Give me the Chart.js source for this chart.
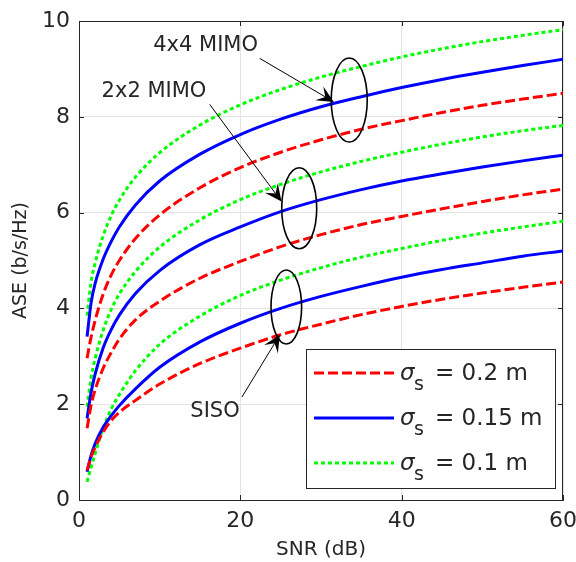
<!DOCTYPE html>
<html>
<head>
<meta charset="utf-8">
<script src="https://cdn.jsdelivr.net/npm/chart.js@4.4.1/dist/chart.umd.min.js"></script>
<style>
  html, body { margin: 0; padding: 0; background: #fff; }
</style>
</head>
<body>
<canvas id="chart" width="576" height="562"></canvas>
<script>
const snr = [1, 1.5, 2, 3, 4, 5, 7, 10, 15, 20, 25, 30, 35, 40, 45, 50, 55, 60];

// SISO
const sisoRed   = [0.62, 0.90, 1.10, 1.42, 1.66, 1.83, 2.08, 2.42, 2.85, 3.17, 3.45, 3.67, 3.87, 4.04, 4.19, 4.32, 4.44, 4.55];
const sisoBlue  = [0.59, 0.93, 1.18, 1.52, 1.76, 1.97, 2.32, 2.77, 3.30, 3.69, 4.00, 4.25, 4.46, 4.65, 4.81, 4.95, 5.09, 5.20];
const sisoGreen = [0.38, 0.68, 0.97, 1.50, 1.90, 2.20, 2.70, 3.25, 3.84, 4.27, 4.59, 4.85, 5.07, 5.25, 5.42, 5.57, 5.70, 5.82];
// 2x2 MIMO
const mimo2Red   = [1.50, 1.98, 2.30, 2.75, 3.08, 3.36, 3.76, 4.15, 4.63, 4.98, 5.29, 5.54, 5.75, 5.92, 6.08, 6.23, 6.37, 6.49];
const mimo2Blue  = [1.70, 2.25, 2.63, 3.18, 3.56, 3.86, 4.31, 4.79, 5.33, 5.70, 6.02, 6.27, 6.48, 6.66, 6.81, 6.95, 7.08, 7.20];
const mimo2Green = [1.95, 2.55, 2.95, 3.55, 3.98, 4.30, 4.77, 5.28, 5.85, 6.27, 6.59, 6.85, 7.07, 7.26, 7.43, 7.58, 7.71, 7.82];
// 4x4 MIMO
const mimo4Red   = [2.96, 3.40, 3.75, 4.30, 4.70, 5.00, 5.46, 5.95, 6.52, 6.94, 7.26, 7.52, 7.74, 7.92, 8.09, 8.24, 8.37, 8.49];
const mimo4Blue  = [3.41, 4.12, 4.52, 5.03, 5.40, 5.70, 6.16, 6.66, 7.22, 7.63, 7.95, 8.21, 8.42, 8.61, 8.78, 8.93, 9.07, 9.20];
const mimo4Green = [3.85, 4.55, 4.95, 5.52, 5.94, 6.26, 6.74, 7.25, 7.83, 8.25, 8.57, 8.83, 9.05, 9.25, 9.42, 9.57, 9.70, 9.82];

const xTicks = [0, 20, 40, 60];
const yTicks = [0, 2, 4, 6, 8, 10];
const legendLabels = ['0.2', '0.15', '0.1'];

const RED = '#ff0000', BLUE = '#0000ff', GREEN = '#00ff00';
const styles = {
  red:   { color: RED,   dash: [10, 4] },
  blue:  { color: BLUE,  dash: [] },
  green: { color: GREEN, dash: [4, 3] }
};
const FONT = '"DejaVu Sans", sans-serif';
const AXIS = '#262626';

function series(ys, style) {
  return {
    data: ys.map((y, i) => ({ x: snr[i], y: y })),
    borderColor: styles[style].color,
    borderDash: styles[style].dash,
    borderWidth: 3,
    pointRadius: 0,
    fill: false,
    cubicInterpolationMode: 'monotone'
  };
}

// annotation positions in data units
const ellipses = [
  { x: 33.5, y: 8.35, rx: 18, ry: 42 },
  { x: 27.3, y: 6.09, rx: 17.5, ry: 40.5 },
  { x: 25.7, y: 4.03, rx: 15.3, ry: 37 }
];
const arrows = [
  { from: [22.4, 9.22], to: [31.6, 8.31] },
  { from: [16.2, 8.26], to: [25.1, 6.23] },
  { from: [20.2, 2.15], to: [24.9, 3.45] }
];
const labels = [
  { text: '4x4 MIMO', x: 9.2, y: 9.48 },
  { text: '2x2 MIMO', x: 2.8, y: 8.52 },
  { text: 'SISO', x: 13.8, y: 1.85 }
];

function drawArrow(ctx, x1, y1, x2, y2) {
  const ang = Math.atan2(y2 - y1, x2 - x1);
  const len = 17, wid = 8, notch = 10;
  ctx.beginPath();
  ctx.moveTo(x1, y1);
  ctx.lineTo(x2 - Math.cos(ang) * notch, y2 - Math.sin(ang) * notch);
  ctx.lineWidth = 1;
  ctx.strokeStyle = '#000';
  ctx.stroke();
  const bx = x2 - Math.cos(ang) * len, by = y2 - Math.sin(ang) * len;
  const nx = x2 - Math.cos(ang) * notch, ny = y2 - Math.sin(ang) * notch;
  const px = -Math.sin(ang) * wid, py = Math.cos(ang) * wid;
  ctx.beginPath();
  ctx.moveTo(x2, y2);
  ctx.lineTo(bx + px, by + py);
  ctx.lineTo(nx, ny);
  ctx.lineTo(bx - px, by - py);
  ctx.closePath();
  ctx.fillStyle = '#000';
  ctx.fill();
}

const extras = {
  id: 'extras',
  beforeDatasetsDraw(chart) {
    const { ctx, chartArea: a } = chart;
    // box and inner ticks
    ctx.save();
    ctx.strokeStyle = AXIS;
    ctx.lineWidth = 1;
    ctx.strokeRect(a.left + 0.5, a.top + 0.5, a.right - a.left - 1, a.bottom - a.top);
    const xs = chart.scales.x, ys = chart.scales.y;
    ctx.beginPath();
    xTicks.forEach(t => {
      const px = Math.round(xs.getPixelForValue(t)) + 0.5;
      ctx.moveTo(px, a.bottom); ctx.lineTo(px, a.bottom - 5);
      ctx.moveTo(px, a.top); ctx.lineTo(px, a.top + 5);
    });
    yTicks.forEach(t => {
      const py = Math.round(ys.getPixelForValue(t)) + 0.5;
      ctx.moveTo(a.left, py); ctx.lineTo(a.left + 5, py);
      ctx.moveTo(a.right, py); ctx.lineTo(a.right - 5, py);
    });
    ctx.stroke();
    ctx.restore();
  },
  afterDatasetsDraw(chart) {
    const { ctx, chartArea: a } = chart;
    const xs = chart.scales.x, ys = chart.scales.y;
    ctx.save();
    // ellipses
    ctx.strokeStyle = '#000';
    ctx.lineWidth = 1.6;
    ellipses.forEach(e => {
      ctx.beginPath();
      ctx.ellipse(xs.getPixelForValue(e.x), ys.getPixelForValue(e.y), e.rx, e.ry, 0, 0, Math.PI * 2);
      ctx.stroke();
    });
    arrows.forEach(ar => {
      drawArrow(ctx, xs.getPixelForValue(ar.from[0]), ys.getPixelForValue(ar.from[1]),
        xs.getPixelForValue(ar.to[0]), ys.getPixelForValue(ar.to[1]));
    });
    ctx.fillStyle = '#262626';
    ctx.font = '21px ' + FONT;
    ctx.textBaseline = 'middle';
    ctx.textAlign = 'left';
    labels.forEach(l => {
      ctx.fillText(l.text, xs.getPixelForValue(l.x), ys.getPixelForValue(l.y));
    });

    // legend
    const bw = 249, bh = 139;
    const bx = a.right - 8 - bw, by = a.bottom - 12 - bh;
    ctx.fillStyle = '#fff';
    ctx.fillRect(bx, by, bw, bh);
    ctx.strokeStyle = AXIS;
    ctx.lineWidth = 1;
    ctx.strokeRect(bx + 0.5, by + 0.5, bw, bh);
    const keys = ['red', 'blue', 'green'];
    keys.forEach((k, i) => {
      const ly = by + 24 + i * 45;
      ctx.beginPath();
      ctx.setLineDash(styles[k].dash);
      ctx.strokeStyle = styles[k].color;
      ctx.lineWidth = 3;
      ctx.moveTo(bx + 8, ly);
      ctx.lineTo(bx + 88, ly);
      ctx.stroke();
      ctx.setLineDash([]);
      ctx.fillStyle = '#262626';
      ctx.textBaseline = 'alphabetic';
      ctx.font = 'italic 23px ' + FONT;
      ctx.fillText('σ', bx + 94, ly + 7);
      ctx.font = '19px ' + FONT;
      ctx.fillText('s', bx + 108, ly + 17);
      ctx.font = '23px ' + FONT;
      ctx.fillText('= ' + legendLabels[i] + ' m', bx + 129, ly + 7);
    });
    ctx.restore();
  }
};

new Chart(document.getElementById('chart'), {
  type: 'line',
  data: {
    datasets: [
      series(mimo4Red, 'red'), series(mimo4Blue, 'blue'), series(mimo4Green, 'green'),
      series(mimo2Red, 'red'), series(mimo2Blue, 'blue'), series(mimo2Green, 'green'),
      series(sisoRed, 'red'), series(sisoBlue, 'blue'), series(sisoGreen, 'green')
    ]
  },
  options: {
    responsive: false,
    animation: false,
    layout: { padding: { left: 0, top: 21, right: 13, bottom: 0 } },
    plugins: { legend: { display: false }, tooltip: { enabled: false } },
    scales: {
      x: {
        type: 'linear', min: 0, max: 60,
        afterBuildTicks: ax => { ax.ticks = xTicks.map(v => ({ value: v })); },
        afterFit: ax => { ax.height = 62; ax.paddingLeft = 0; ax.paddingRight = 0; },
        grid: { color: '#e3e3e3', drawTicks: false },
        border: { color: AXIS },
        ticks: { color: AXIS, padding: 8, font: { family: FONT, size: 22 } },
        title: { display: true, text: 'SNR (dB)', color: AXIS, padding: { top: 0, bottom: 0 }, font: { family: FONT, size: 20 } }
      },
      y: {
        type: 'linear', min: 0, max: 10,
        afterBuildTicks: ax => { ax.ticks = yTicks.map(v => ({ value: v })); },
        afterFit: ax => { ax.width = 79; ax.paddingTop = 0; ax.paddingBottom = 0; },
        grid: { color: '#e3e3e3', drawTicks: false },
        border: { color: AXIS },
        ticks: { color: AXIS, padding: 9, font: { family: FONT, size: 22 } },
        title: { display: true, text: 'ASE (b/s/Hz)', color: AXIS, padding: { top: 10, bottom: 0 }, font: { family: FONT, size: 19 } }
      }
    }
  },
  plugins: [extras]
});
</script>
</body>
</html>
